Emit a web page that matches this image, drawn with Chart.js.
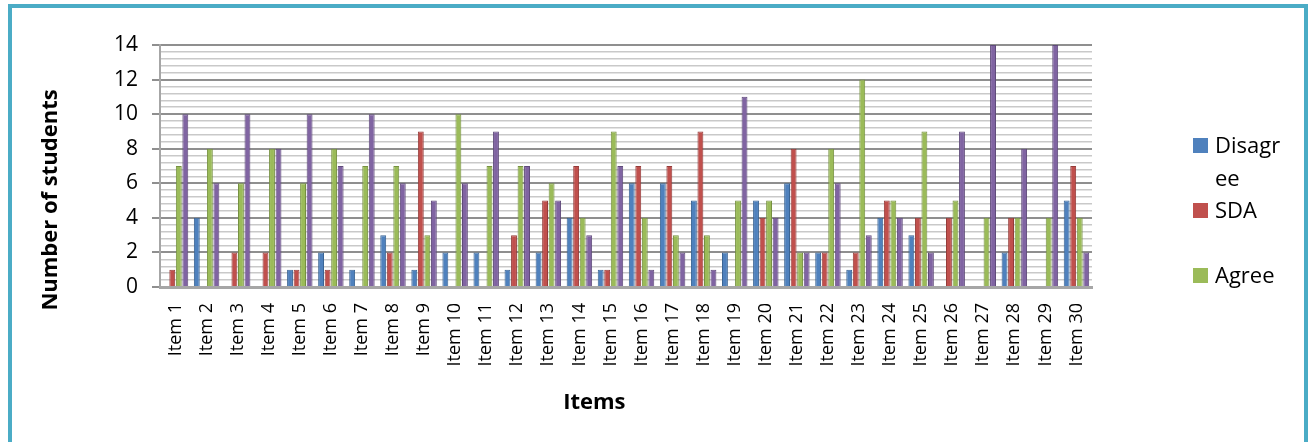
<!DOCTYPE html>
<html>
<head>
<meta charset="utf-8">
<script src="https://cdn.jsdelivr.net/npm/chart.js@4/dist/chart.umd.min.js"></script>
<style>
  html, body { margin: 0; padding: 0; background: #fff; overflow: hidden; }
  #frame { position: absolute; left: 8px; top: 4px; width: 1292px; height: 470px; border: 4px solid #4bacc6; box-sizing: content-box; }
  #wrap { position: absolute; left: 0; top: 0; width: 1308px; height: 442px; }
  .leg { position: absolute; left: 1193px; font-family: "Open Sans", sans-serif; font-size: 22px; color: #000; line-height: 33px; }
  .leg i { position: absolute; left: 0; top: 9px; width: 15px; height: 15px; }
  .leg span { position: absolute; left: 22px; top: 0; white-space: nowrap; }
</style>
</head>
<body>
<div id="frame"></div>
<div id="wrap"><canvas id="myChart" width="1308" height="442"></canvas></div>
<div class="leg" style="top:129px"><i style="background:#4f81bd"></i><span style="top:-1px">Disagr<br>ee</span></div>
<div class="leg" style="top:194px"><i style="background:#c0504d"></i><span style="top:-1px">SDA</span></div>
<div class="leg" style="top:259px"><i style="background:#9bbb59"></i><span style="top:-1px">Agree</span></div>
<script>
// values
var items = [];
for (var i = 1; i <= 30; i++) items.push("Item " + i);

var disagree = [0,4,0,0,1,2,1,3,1,2,2,1,2,4,1,6,6,5,2,5,6,2,1,4,3,0,0,2,0,5];
var sda      = [1,0,2,2,1,1,0,2,9,0,0,3,5,7,1,7,7,9,0,4,8,2,2,5,4,4,0,4,0,7];
var agree    = [7,8,6,8,6,8,7,7,3,10,7,7,6,4,9,4,3,3,5,5,2,8,12,5,9,5,4,4,4,4];
var sa       = [10,6,10,8,10,7,10,6,5,6,9,7,5,3,7,1,2,1,11,4,2,6,3,4,2,9,14,8,14,2];

function isMajor(v) {
    return Math.abs(v - Math.round(v)) < 1e-6 && Math.round(v) % 2 === 0;
}

// axis titles (Excel places them off the plot centre)
var axisTitles = {
    id: "axisTitles",
    afterDraw: function(chart) {
        var ctx = chart.ctx, a = chart.chartArea;
        ctx.save();
        ctx.fillStyle = "#000";
        ctx.font = "bold 22px 'Open Sans', sans-serif";
        ctx.textAlign = "center";
        ctx.textBaseline = "middle";
        ctx.fillText("Items", a.left + (a.right - a.left) * 0.466, 403);
        ctx.translate(51, a.top + 155);
        ctx.rotate(-Math.PI / 2);
        ctx.fillText("Number of students", 0, 0);
        ctx.restore();
    }
};

function ds(label, data, color, border) {
    return {
        label: label,
        data: data,
        backgroundColor: color,
        borderColor: border,
        borderWidth: 1,
        categoryPercentage: 0.84,
        barPercentage: 0.9
    };
}

var chart = new Chart(document.getElementById("myChart").getContext("2d"), {
    type: "bar",
    data: {
        labels: items,
        datasets: [
            ds("Disagree", disagree, "#4f81bd", "#3a6494"),
            ds("SDA", sda, "#c0504d", "#953b39"),
            ds("Agree", agree, "#9bbb59", "#769140"),
            ds("SA", sa, "#8064a2", "#5f4a7a")
        ]
    },
    plugins: [axisTitles],
    options: {
        responsive: false,
        animation: false,
        layout: { padding: { left: 0, right: 216, top: 45, bottom: 0 } },
        plugins: {
            legend: { display: false },
            tooltip: { enabled: false }
        },
        scales: {
            x: {
                grid: { display: false },
                border: { display: true, color: "#a6a6a6", width: 3 },
                ticks: {
                    color: "#000",
                    font: { family: "Open Sans", size: 18 },
                    minRotation: 90,
                    maxRotation: 90,
                    autoSkip: false,
                    padding: 8
                },
                afterFit: function(s) { s.height = 155; }
            },
            y: {
                min: 0,
                max: 14,
                border: { display: true, color: "#a6a6a6", width: 2 },
                grid: {
                    color: function(c) { return isMajor(c.tick.value) ? "#8f8f8f" : "#c9c9c9"; },
                    lineWidth: function(c) { return isMajor(c.tick.value) ? 2 : 1.5; },
                    tickColor: function(c) { return isMajor(c.tick.value) ? "#8f8f8f" : "rgba(0,0,0,0)"; },
                    tickLength: 8
                },
                ticks: {
                    stepSize: 0.4,
                    autoSkip: false,
                    color: "#000",
                    padding: 14,
                    font: { family: "Open Sans", size: 21 },
                    callback: function(v) { return isMajor(v) ? String(Math.round(v)) : ""; }
                },
                afterFit: function(s) { s.width = 160; }
            }
        }
    }
});
</script>
</body>
</html>
